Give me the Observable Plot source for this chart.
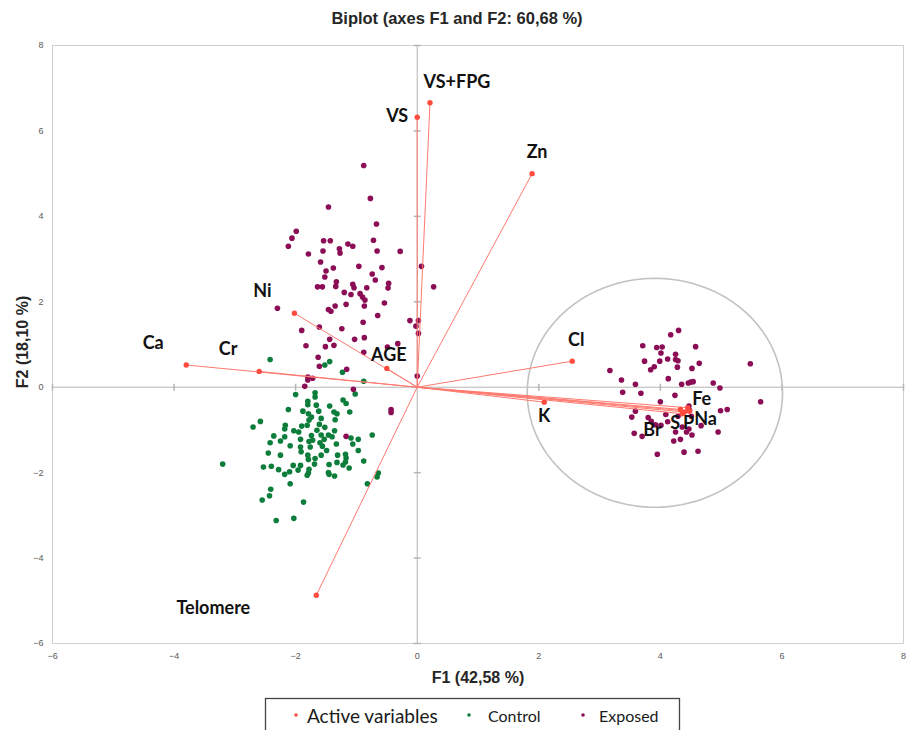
<!DOCTYPE html>
<html><head><meta charset="utf-8">
<script src="https://cdn.jsdelivr.net/npm/d3@7"></script>
<script src="https://cdn.jsdelivr.net/npm/@observablehq/plot@0.6"></script>
<style>body{margin:0;background:#fff;} #chart{width:908px;height:730px;overflow:hidden;}</style>
</head><body><div id="chart"></div>
<script>
// ---- Data ----
const xTicks = [-6, -4, -2, 0, 2, 4, 6, 8];
const yTicks = [-6, -4, -2, 0, 2, 4, 6, 8];

const varNames = ["Ca","Cr","Ni","AGE","VS","VS+FPG","Zn","Cl","K","Telomere","Fe","Na","S","P","Br"];
const varF1 = [-3.80,-2.60,-2.02,-0.50,0.00,0.21,1.89,2.55,2.09,-1.66,4.45,4.48,4.36,4.40,4.33];
const varF2 = [0.52,0.37,1.73,0.44,6.32,6.66,5.00,0.61,-0.35,-4.87,-0.48,-0.56,-0.62,-0.58,-0.52];

const exposedLeft = [[-0.88,5.19],[-0.77,4.42],[-1.46,4.22],[-0.67,3.82],[-1.99,3.65],[-2.06,3.49],[-2.12,3.30],[-1.54,3.43],[-1.43,3.43],[-0.72,3.44],[-1.14,3.35],[-1.06,3.30],[-1.28,3.24],[-1.27,3.14],[-1.55,3.19],[-1.79,3.12],[-0.66,3.19],[-0.28,3.18],[-1.59,2.93],[-0.96,2.83],[-0.58,2.80],[0.07,2.83],[-1.38,2.79],[-1.50,2.72],[-1.52,2.58],[-0.74,2.65],[-0.69,2.51],[-1.33,2.47],[-1.34,2.36],[-1.64,2.35],[-1.56,2.35],[-1.06,2.41],[-1.04,2.33],[-0.83,2.33],[-0.47,2.43],[-0.48,2.32],[0.27,2.35],[-1.20,2.22],[-1.09,2.17],[-0.94,2.19],[-0.90,2.11],[-0.86,2.04],[-1.17,1.94],[-1.35,1.90],[-1.46,1.82],[-1.42,1.78],[-0.87,1.90],[-0.54,1.97],[-2.30,1.85],[-0.65,1.68],[-0.89,1.52],[-0.12,1.56],[0.02,1.56],[-0.02,1.43],[0.02,1.26],[-1.61,1.41],[-1.90,1.33],[-1.24,1.37],[-0.87,1.16],[-1.03,1.12],[-1.44,1.12],[-1.83,0.97],[-1.51,0.95],[-1.37,0.98],[-0.88,0.82],[-0.49,0.94],[-0.32,1.02],[-1.63,0.70],[-1.61,0.49],[-1.16,0.42],[0.00,0.26],[-1.80,0.24],[-1.80,0.17],[-1.72,0.21],[-1.85,0.02],[-1.05,-0.05],[-0.43,-0.52],[-0.43,-0.59],[-1.17,-1.15]];

const exposedRight = [[4.17,1.23],[4.30,1.33],[3.71,0.97],[3.94,0.93],[4.03,0.94],[4.01,0.80],[4.58,0.95],[4.25,0.77],[3.74,0.61],[3.99,0.61],[4.12,0.66],[4.25,0.65],[4.29,0.62],[4.64,0.56],[3.90,0.48],[3.84,0.41],[4.28,0.47],[4.52,0.44],[5.48,0.55],[3.17,0.39],[4.13,0.20],[3.36,0.17],[3.59,0.07],[4.35,0.07],[4.46,0.10],[4.50,0.12],[4.54,0.13],[4.87,0.10],[4.98,-0.02],[3.38,-0.12],[3.68,-0.14],[4.24,-0.19],[5.65,-0.34],[4.00,-0.34],[4.47,-0.44],[4.48,-0.54],[4.99,-0.55],[5.10,-0.52],[3.59,-0.56],[4.09,-0.64],[4.29,-0.68],[3.53,-0.70],[3.80,-0.71],[4.51,-0.68],[4.12,-0.81],[3.85,-0.80],[4.01,-0.89],[3.92,-0.88],[4.67,-0.90],[4.36,-0.93],[4.47,-0.98],[4.43,-1.05],[4.25,-1.05],[4.52,-1.12],[3.57,-1.08],[3.70,-1.15],[4.95,-1.05],[4.33,-1.22],[4.22,-1.26],[3.95,-1.57],[4.39,-1.52],[4.62,-1.50]];

const control = [[-2.42,0.65],[-1.44,0.60],[-1.52,0.52],[-1.23,0.35],[-0.88,0.14],[-1.02,-0.16],[-1.68,-0.13],[-1.68,-0.23],[-2.00,-0.17],[-1.80,-0.33],[-1.80,-0.41],[-1.66,-0.42],[-1.22,-0.30],[-1.17,-0.38],[-1.44,-0.44],[-2.12,-0.52],[-1.88,-0.56],[-1.79,-0.62],[-1.62,-0.56],[-1.37,-0.58],[-1.32,-0.62],[-1.11,-0.58],[-1.78,-0.77],[-1.74,-0.70],[-1.58,-0.73],[-1.35,-0.76],[-2.58,-0.80],[-2.70,-0.93],[-2.17,-0.89],[-1.81,-0.89],[-1.90,-0.91],[-1.61,-0.87],[-1.52,-0.94],[-2.18,-0.98],[-2.03,-1.02],[-1.95,-1.05],[-1.65,-1.01],[-1.36,-1.02],[-2.36,-1.14],[-2.18,-1.16],[-1.74,-1.13],[-1.58,-1.12],[-1.46,-1.12],[-1.40,-1.16],[-1.09,-1.19],[-0.97,-1.22],[-0.74,-1.12],[-1.92,-1.22],[-1.53,-1.22],[-2.25,-1.26],[-2.42,-1.30],[-1.78,-1.27],[-1.72,-1.24],[-1.60,-1.30],[-1.56,-1.38],[-1.33,-1.33],[-1.06,-1.33],[-2.09,-1.37],[-1.92,-1.40],[-1.76,-1.40],[-0.97,-1.48],[-2.45,-1.54],[-1.91,-1.51],[-1.49,-1.48],[-2.25,-1.59],[-1.80,-1.59],[-1.58,-1.59],[-1.18,-1.57],[-1.17,-1.66],[-1.31,-1.59],[-1.68,-1.67],[-1.18,-1.75],[-1.79,-1.69],[-0.88,-1.73],[-1.32,-1.76],[-3.20,-1.80],[-2.53,-1.87],[-2.40,-1.85],[-2.04,-1.83],[-1.92,-1.83],[-1.69,-1.80],[-1.45,-1.81],[-1.22,-1.82],[-2.28,-1.93],[-1.78,-1.92],[-1.12,-1.89],[-2.18,-2.04],[-2.10,-1.98],[-1.96,-1.94],[-1.79,-2.01],[-1.81,-2.06],[-1.46,-2.00],[-1.45,-2.04],[-1.36,-2.08],[-0.64,-2.01],[-0.66,-2.10],[-2.09,-2.26],[-0.82,-2.26],[-2.41,-2.39],[-2.43,-2.54],[-2.55,-2.64],[-1.87,-2.69],[-2.32,-3.12],[-2.03,-3.07]];

// ---- Layout / style (not data) ----
const labelDx = [-33,-31,-32,2,-20,27,5,4,0,-103,14,16,-7,4,-28];
const labelDy = [-22,-22,-22,-13,-1,-21,-21,-21,14,13,-8,8,10,11,21];
const ellipseSpec = {cx: 3.91, cy: -0.13, rx: 2.10, ry: 2.68};
const ellipsePts = d3.range(0, 361, 3).map(a => {
  const t = a * Math.PI / 180;
  return {x: ellipseSpec.cx + ellipseSpec.rx * Math.cos(t), y: ellipseSpec.cy + ellipseSpec.ry * Math.sin(t)};
});

const vars = varNames.map((n, i) => ({name: n, f1: varF1[i], f2: varF2[i]}));
const exposed = exposedLeft.concat(exposedRight);

const C_EXP = "#8b0d55", C_CTRL = "#0d7d3b", C_VAR = "#ff4b3e", C_VLINE = "#ff7a70";
const hTick = {draw(ctx) { ctx.moveTo(-3.5, 0); ctx.lineTo(3.5, 0); }};
const vTick = {draw(ctx) { ctx.moveTo(0, -3.5); ctx.lineTo(0, 3.5); }};

const labelFont = "Lato, 'Liberation Sans', sans-serif";

const plot = Plot.plot({
  width: 908, height: 730,
  marginLeft: 52, marginRight: 5, marginTop: 45, marginBottom: 87,
  x: {domain: [-6, 8], ticks: xTicks, tickSize: 0, tickPadding: 9, label: null},
  y: {domain: [-6, 8], ticks: yTicks, tickSize: 0, tickPadding: 9, label: null},
  style: {fontFamily: "'Liberation Sans Narrow', 'Liberation Sans', sans-serif", fontSize: "9px", color: "#595959", background: "#fff"},
  marks: [
    Plot.frame({stroke: "#d0d0d0"}),
    Plot.ruleX([0], {stroke: "#b5b5b5"}),
    Plot.ruleY([0], {stroke: "#b5b5b5"}),
    Plot.dot(yTicks.filter(d => d !== 0), {x: () => 0, y: d => d, symbol: hTick, stroke: "#b5b5b5", r: 3}),
    Plot.dot(xTicks.filter(d => d !== 0), {x: d => d, y: () => 0, symbol: vTick, stroke: "#b5b5b5", r: 3}),
    Plot.line(ellipsePts, {x: "x", y: "y", stroke: "#c2c2c2", strokeWidth: 1.6}),
    Plot.dot(control, {x: d => d[0], y: d => d[1], fill: C_CTRL, r: 2.8}),
    Plot.dot(exposed, {x: d => d[0], y: d => d[1], fill: C_EXP, r: 2.8}),
    Plot.link(vars, {x1: () => 0, y1: () => 0, x2: "f1", y2: "f2", stroke: C_VLINE, strokeWidth: 1}),
    Plot.dot(vars, {x: "f1", y: "f2", fill: C_VAR, r: 2.7}),
    ...vars.map((v, i) => Plot.text([v], {x: "f1", y: "f2", text: "name", dx: labelDx[i], dy: labelDy[i],
      fontSize: 18, fontWeight: "bold", fontFamily: labelFont, fill: "#111"}))
  ]
});

const svg = d3.select(plot);
svg.append("text").attr("x", 457).attr("y", 18).attr("text-anchor", "middle").attr("dominant-baseline", "central")
  .attr("font-family", "'Liberation Sans', Arial, sans-serif").attr("font-weight", "bold").attr("font-size", 16.5).attr("fill", "#262626")
  .text("Biplot (axes F1 and F2: 60,68 %)");
svg.append("text").attr("x", 478).attr("y", 677).attr("text-anchor", "middle").attr("dominant-baseline", "central")
  .attr("font-family", "'Liberation Sans', Arial, sans-serif").attr("font-weight", "bold").attr("font-size", 16).attr("fill", "#262626")
  .text("F1 (42,58 %)");
svg.append("text").attr("transform", "translate(22,342) rotate(-90)").attr("text-anchor", "middle").attr("dominant-baseline", "central")
  .attr("font-family", "'Liberation Sans', Arial, sans-serif").attr("font-weight", "bold").attr("font-size", 16).attr("fill", "#262626")
  .text("F2 (18,10 %)");

// legend
const lg = svg.append("g").attr("text-anchor", "start");
lg.append("rect").attr("x", 265.5).attr("y", 698.5).attr("width", 414).attr("height", 45).attr("fill", "#fff").attr("stroke", "#444").attr("stroke-width", 1.3);
const items = [
  {label: "Active variables", color: C_VAR, cx: 296, tx: 307, size: 19},
  {label: "Control", color: C_CTRL, cx: 469, tx: 488, size: 16},
  {label: "Exposed", color: C_EXP, cx: 583, tx: 599, size: 16}
];
items.forEach(it => {
  lg.append("circle").attr("cx", it.cx).attr("cy", 715).attr("r", 1.8).attr("fill", it.color);
  lg.append("text").attr("x", it.tx).attr("y", 715).attr("text-anchor", "start").attr("dominant-baseline", "central")
    .attr("font-family", labelFont).attr("font-size", it.size).attr("fill", "#1a1a1a").text(it.label);
});

document.getElementById("chart").appendChild(plot);
</script>
</body></html>
